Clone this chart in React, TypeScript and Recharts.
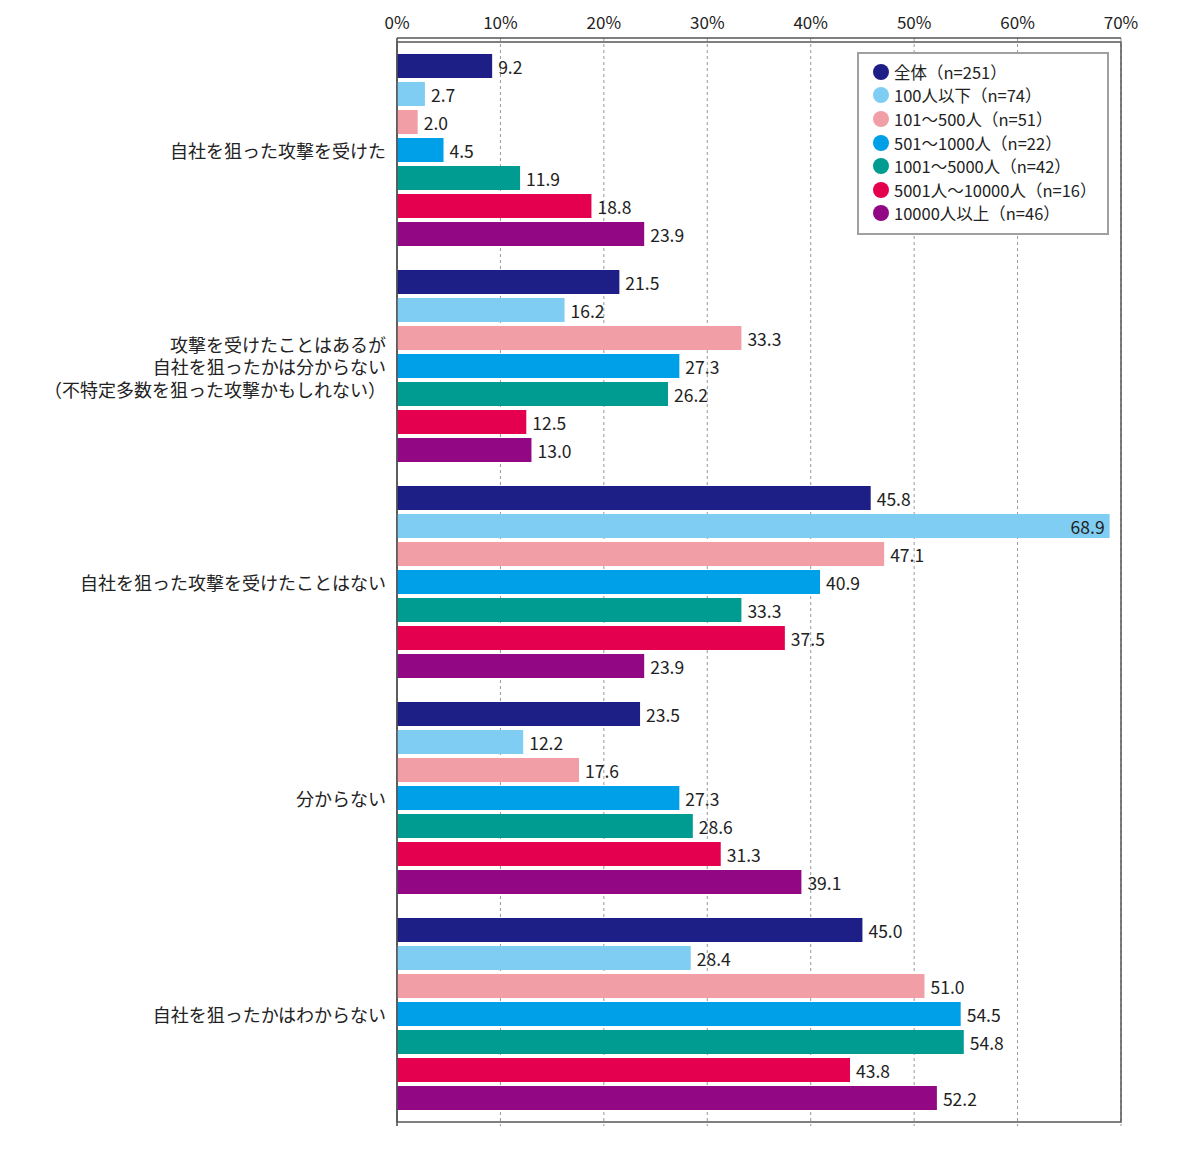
import { BarChart, Bar, XAxis, YAxis, CartesianGrid, Legend, LabelList, ReferenceArea } from "recharts";

const FONT = '"Noto Sans CJK JP", "Noto Sans", sans-serif';

const categories = [
  "自社を狙った攻撃を受けた",
  "攻撃を受けたことはあるが\n自社を狙ったかは分からない\n（不特定多数を狙った攻撃かもしれない）",
  "自社を狙った攻撃を受けたことはない",
  "分からない",
  "自社を狙ったかはわからない",
];

const seriesNames = [
  "全体（n=251）",
  "100人以下（n=74）",
  "101～500人（n=51）",
  "501～1000人（n=22）",
  "1001～5000人（n=42）",
  "5001人～10000人（n=16）",
  "10000人以上（n=46）",
];

const seriesColors = ["#1e1e87", "#80cdf3", "#f29ea7", "#00a0e8", "#009c91", "#e4004e", "#920783"];

const zentai = [9.2, 21.5, 45.8, 23.5, 45.0];
const under100 = [2.7, 16.2, 68.9, 12.2, 28.4];
const s101to500 = [2.0, 33.3, 47.1, 17.6, 51.0];
const s501to1000 = [4.5, 27.3, 40.9, 27.3, 54.5];
const s1001to5000 = [11.9, 26.2, 33.3, 28.6, 54.8];
const s5001to10000 = [18.8, 12.5, 37.5, 31.3, 43.8];
const over10000 = [23.9, 13.0, 23.9, 39.1, 52.2];

const seriesValues = [zentai, under100, s101to500, s501to1000, s1001to5000, s5001to10000, over10000];

const xTicks = [0, 10, 20, 30, 40, 50, 60, 70];

const data = categories.map((name, i) => {
  const row: Record<string, string | number> = { name };
  seriesValues.forEach((vals, s) => {
    row["s" + s] = vals[i];
  });
  return row;
});

function CategoryTick({ x, y, payload }: any) {
  const lines = String(payload.value).split("\n");
  const lh = 22.5;
  const start = -((lines.length - 1) * lh) / 2;
  return (
    <text x={x} y={y} textAnchor="end" fill="#222" fontSize={18} fontFamily={FONT}>
      {lines.map((l, i) => (
        <tspan key={i} x={x} dy={i === 0 ? start : lh} dominantBaseline="central">
          {l}
        </tspan>
      ))}
    </text>
  );
}

function ValueLabel({ x, y, width, height, value }: any) {
  const inside = value > 60;
  const tx = inside ? x + width - 5 : x + width + 6;
  return (
    <text
      x={tx}
      y={y + height / 2}
      textAnchor={inside ? "end" : "start"}
      dominantBaseline="central"
      fill="#222"
      fontSize={17.5}
      fontFamily={FONT}
    >
      {Number(value).toFixed(1)}
    </text>
  );
}

function LegendBox() {
  return (
    <div
      style={{
        border: "2px solid #a0a0a0",
        background: "#fff",
        padding: "6px 6px 8px 14px",
        fontFamily: FONT,
        fontSize: 16.5,
        color: "#222",
        width: 228,
        boxSizing: "content-box",
        textAlign: "left",
      }}
    >
      {seriesNames.map((n, i) => (
        <div key={n} style={{ display: "flex", alignItems: "center", height: 23.6, whiteSpace: "nowrap" }}>
          <span
            style={{
              display: "inline-block",
              width: 16,
              height: 16,
              borderRadius: "50%",
              background: seriesColors[i],
              marginRight: 5,
              flexShrink: 0,
            }}
          />
          <span>{n}</span>
        </div>
      ))}
    </div>
  );
}

export default function App() {
  return (
    <div style={{ width: 1184, height: 1140, background: "#fff" }}>
      <BarChart
        width={1184}
        height={1140}
        data={data}
        layout="vertical"
        margin={{ top: 4, right: 71, bottom: 22, left: 0 }}
        barGap={4}
        barSize={24}
      >
        <CartesianGrid horizontal={false} vertical stroke="#999" strokeDasharray="3 3" />
        <XAxis
          type="number"
          orientation="top"
          domain={[0, 70]}
          ticks={xTicks}
          tickFormatter={(v) => v + "%"}
          height={26}
          tickLine={false}
          axisLine={{ stroke: "#555", strokeWidth: 1.5 }}
          tick={{ fill: "#222", fontSize: 17, fontFamily: FONT }}
          tickMargin={3}
        />
        <YAxis
          type="category"
          dataKey="name"
          width={389}
          padding={{ top: 4, bottom: 4 }}
          tickLine={false}
          axisLine={{ stroke: "#555", strokeWidth: 1.5 }}
          tick={<CategoryTick />}
          tickMargin={5}
          interval={0}
        />
        <ReferenceArea x1={0} x2={70} fill="none" stroke="#555" strokeWidth={1.5} ifOverflow="visible" />
        <Legend
          layout="vertical"
          verticalAlign="middle"
          align="center"
          content={<LegendBox />}
          wrapperStyle={{ top: 44, left: 849, width: 252, height: 180 }}
        />
        {seriesNames.map((n, i) => (
          <Bar key={n} dataKey={"s" + i} name={n} fill={seriesColors[i]} isAnimationActive={false}>
            <LabelList dataKey={"s" + i} content={<ValueLabel />} />
          </Bar>
        ))}
      </BarChart>
    </div>
  );
}
